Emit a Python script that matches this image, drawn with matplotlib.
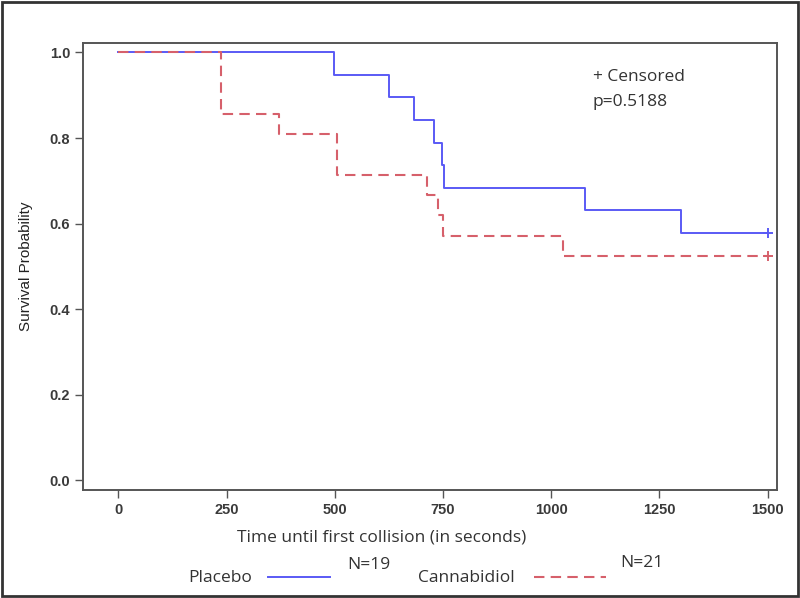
import matplotlib
matplotlib.use('Agg')
import matplotlib.pyplot as plt
from matplotlib.lines import Line2D
from matplotlib.patches import Rectangle

# Kaplan-Meier steps
placebo_t = [0, 498, 625, 683, 729, 747, 752, 1078, 1300, 1500]
placebo_s = [1.0, 0.947, 0.895, 0.842, 0.789, 0.737, 0.684, 0.632, 0.579, 0.579]
cbd_t = [0, 237, 372, 505, 712, 739, 749, 1027, 1500]
cbd_s = [1.0, 0.857, 0.810, 0.714, 0.667, 0.619, 0.571, 0.524, 0.524]
censor_t = [1500, 1500]
censor_s = [0.579, 0.524]

x_ticks = [0, 250, 500, 750, 1000, 1250, 1500]
y_ticks = [0.0, 0.2, 0.4, 0.6, 0.8, 1.0]

blue = '#5a5af5'
red = '#d6606b'
soft = 'Open Sans'
arial = 'Liberation Sans'
txt = '#333333'

fig = plt.figure(figsize=(8, 5.98), dpi=100)
ax = fig.add_axes([0.104, 0.181, 0.867, 0.747])

ax.plot(placebo_t, placebo_s, drawstyle='steps-post', color=blue, lw=1.4)
ax.plot(cbd_t, cbd_s, drawstyle='steps-post', color=red, lw=1.5, dashes=(5, 3))
ax.plot(censor_t[0], censor_s[0], marker='+', color=blue, ms=7, mew=1.4)
ax.plot(censor_t[1], censor_s[1], marker='+', color=red, ms=7, mew=1.4)

ax.set_xlim(-81, 1521)
ax.set_ylim(-0.022, 1.022)
ax.set_xticks(x_ticks)
ax.set_yticks(y_ticks)
ax.set_yticklabels([f'{v:.1f}' for v in y_ticks], family=arial, fontsize=10.5,
                   weight='bold', color='#3a3a3a')
ax.set_xticklabels([str(v) for v in x_ticks], family=arial, fontsize=10.5,
                   weight='bold', color='#3a3a3a')
ax.tick_params(direction='out', length=6, width=1, color='#555555')
for sp in ax.spines.values():
    sp.set_color('#555555')
    sp.set_linewidth(1.4)

ax.set_ylabel('Survival Probability', family=arial, fontsize=11, color='#222222', labelpad=12)
ax.set_xlabel('Time until first collision (in seconds)', family=soft, fontsize=12.5, color=txt)
ax.xaxis.set_label_coords(0.43, -0.09)

ax.text(0.735, 0.924, '+ Censored', transform=ax.transAxes, family=soft, fontsize=12.5,
        color=txt, va='center')
ax.text(0.735, 0.868, 'p=0.5188', transform=ax.transAxes, family=soft, fontsize=12.5,
        color=txt, va='center')

# bottom legend
fig.text(0.235, 0.034, 'Placebo', family=soft, fontsize=12.5, color=txt, va='center')
fig.add_artist(Line2D([0.335, 0.413], [0.035, 0.035], color=blue, lw=1.4))
fig.text(0.434, 0.055, 'N=19', family=soft, fontsize=12.5, color=txt, va='center')
fig.text(0.5225, 0.034, 'Cannabidiol', family=soft, fontsize=12.5, color=txt, va='center')
fig.add_artist(Line2D([0.667, 0.757], [0.035, 0.035], color=red, lw=1.5, dashes=(5, 3)))
fig.text(0.775, 0.058, 'N=21', family=soft, fontsize=12.5, color=txt, va='center')

# outer frame
fig.add_artist(Rectangle((0.002, 0.003), 0.996, 0.994, transform=fig.transFigure,
                         fill=False, edgecolor='#333333', lw=2))

fig.savefig('out.png', dpi=100)
